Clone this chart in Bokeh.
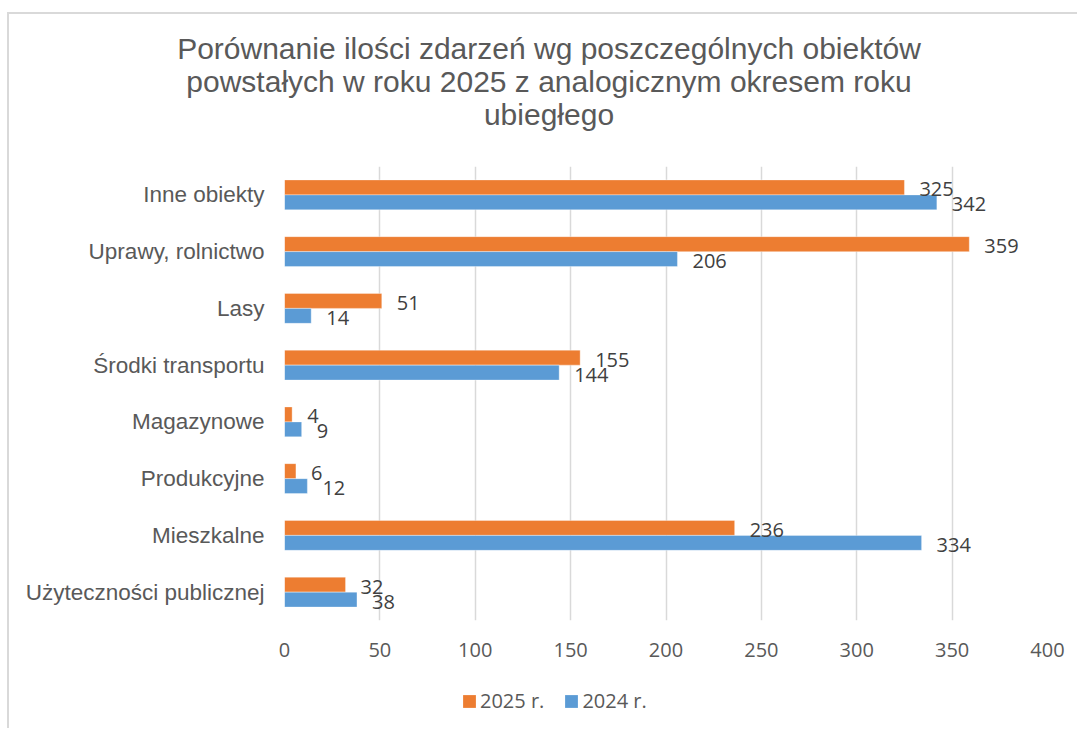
from bokeh.plotting import figure
from bokeh.layouts import column
from bokeh.models import (ColumnDataSource, FactorRange, Range1d, FixedTicker,
                          Legend, LegendItem, Div)
from bokeh.transform import dodge
from bokeh.core.properties import value
from bokeh.embed import file_html
from bokeh.resources import INLINE

# ---------------- data ----------------
categories = ["Inne obiekty", "Uprawy, rolnictwo", "Lasy", "Środki transportu",
              "Magazynowe", "Produkcyjne", "Mieszkalne", "Użyteczności publicznej"]
values_2025 = [325, 359, 51, 155, 4, 6, 236, 32]
values_2024 = [342, 206, 14, 144, 9, 12, 334, 38]
series_names = ["2025 r.", "2024 r."]
x_ticks = [0, 50, 100, 150, 200, 250, 300, 350, 400]
title_lines = ["Porównanie ilości zdarzeń wg poszczególnych obiektów",
               "powstałych w roku 2025 z analogicznym okresem roku",
               "ubiegłego"]

# ---------------- styles / layout ----------------
ORANGE = "#ED7D31"
BLUE = "#5B9BD5"
GRID = "#D9D9D9"
TXT = "#595959"
LBL = "#404040"

OX, OY = 9, 14                 # content origin on the page
W = 1068
HT, H1, H2 = 140, 526, 48      # title strip / chart / legend strip heights
FL, FT = 284, 166              # frame left / top on the page
FRAME_W, FRAME_H = 763, 454
ML, MT = FL - OX, FT - OY - HT
MR = W - ML - FRAME_W
MB = H1 - MT - FRAME_H
X_MAX = 400
BAR_H = 0.264

# ---------------- title ----------------
title_html = (
    '<div style="font-family:\'Liberation Sans\',Arial,sans-serif;font-size:30px;'
    'line-height:33px;color:%s;text-align:center;white-space:nowrap;'
    'padding-top:18px;position:relative;left:6px;width:%dpx;">%s</div>'
    % (TXT, W, "<br>".join(title_lines)))
title = Div(text=title_html, width=W, height=HT, margin=0)

# ---------------- chart ----------------
factors = categories[::-1]
src = ColumnDataSource(dict(
    cat=categories,
    v2025=values_2025,
    v2024=values_2024,
    l2025=[str(v) for v in values_2025],
    l2024=[str(v) for v in values_2024],
))

p = figure(width=W, height=H1, output_backend="svg", toolbar_location=None,
           y_range=FactorRange(factors=factors, range_padding=0),
           x_range=Range1d(0, X_MAX),
           min_border_left=ML, min_border_top=MT, min_border_right=MR,
           min_border_bottom=MB)
p.outline_line_color = None
p.background_fill_color = "white"
p.border_fill_color = "white"

bar_style = dict(line_color="white", line_width=0.6, line_alpha=0.6)
p.hbar(y=dodge("cat", BAR_H / 2, range=p.y_range), left=0, right="v2025",
       height=BAR_H, source=src, fill_color=ORANGE, **bar_style)
p.hbar(y=dodge("cat", -BAR_H / 2, range=p.y_range), left=0, right="v2024",
       height=BAR_H, source=src, fill_color=BLUE, **bar_style)

lbl_style = dict(x_offset=15, y_offset=2, text_baseline="middle", text_align="left",
                 text_font=value("Open Sans"), text_font_size="20px", text_color=LBL)
p.text(x="v2025", y=dodge("cat", BAR_H / 2, range=p.y_range), text="l2025",
       source=src, **lbl_style)
p.text(x="v2024", y=dodge("cat", -BAR_H / 2, range=p.y_range), text="l2024",
       source=src, **lbl_style)

# axes
p.xaxis.ticker = FixedTicker(ticks=x_ticks)
p.xaxis.axis_line_color = None
p.xaxis.major_tick_line_color = None
p.xaxis.minor_tick_line_color = None
p.xaxis.major_label_text_font = "Open Sans"
p.xaxis.major_label_text_font_size = "20px"
p.xaxis.major_label_text_color = TXT
p.xaxis.major_label_standoff = 16

p.yaxis.axis_line_color = None
p.yaxis.major_tick_line_color = None
p.yaxis.minor_tick_line_color = None
p.yaxis.major_tick_out = 0
p.yaxis.major_label_text_font = "Liberation Sans"
p.yaxis.major_label_text_font_size = "22.5px"
p.yaxis.major_label_text_color = TXT
p.yaxis.major_label_standoff = 20

p.xgrid.grid_line_color = GRID
p.xgrid.grid_line_width = 1.5
p.ygrid.grid_line_color = None

# ---------------- legend strip (frame aligned with the chart) ----------------
lg = figure(width=W, height=H2, output_backend="svg", toolbar_location=None,
            x_range=Range1d(0, 1), y_range=Range1d(0, 1),
            min_border_left=ML, min_border_right=MR,
            min_border_top=0, min_border_bottom=0)
lg.axis.visible = False
lg.grid.visible = False
lg.outline_line_color = None
lg.background_fill_color = "white"
lg.border_fill_color = "white"
# swatch renderers use the real data; its bars all lie outside this strip's view
s25 = lg.hbar(y="v2025", left=0, right=0, height=0.01, source=src,
              fill_color=ORANGE, line_color=None)
s24 = lg.hbar(y="v2024", left=0, right=0, height=0.01, source=src,
              fill_color=BLUE, line_color=None)
GLYPH = 16                      # legend area glyphs are drawn at 80 % of the box
legend = Legend(items=[LegendItem(label=series_names[0], renderers=[s25]),
                       LegendItem(label=series_names[1], renderers=[s24])],
                orientation="horizontal", location=(461 - FL, 14),
                padding=0, margin=0, spacing=19, glyph_width=GLYPH,
                glyph_height=GLYPH, label_standoff=3,
                label_text_font="Open Sans", label_text_font_size="20px",
                label_text_color=TXT, border_line_color=None,
                background_fill_alpha=0)
lg.add_layout(legend)

layout = column(title, p, lg, spacing=0)
layout.styles = {"margin-left": "7px", "margin-top": "12px",
                 "border-top": "2px solid #D9D9D9", "border-left": "2px solid #D9D9D9"}

open("out.html", "w").write(file_html(layout, INLINE))
